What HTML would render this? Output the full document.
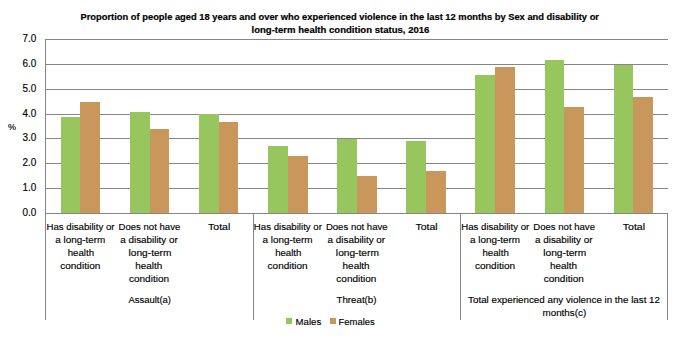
<!DOCTYPE html>
<html><head><meta charset="utf-8"><style>
html,body{margin:0;padding:0;background:#fff;width:680px;height:340px;overflow:hidden}
svg{display:block;font-family:"Liberation Sans",sans-serif;fill:#000}
text{stroke:#000;stroke-width:0.15px}
text[font-weight=bold]{stroke-width:0.2px}
</style></head><body>
<svg width="680" height="340" viewBox="0 0 680 340">
<rect width="680" height="340" fill="#fff"/>
<rect x="46" y="39" width="622" height="1" fill="#868686"/>
<rect x="46" y="64" width="622" height="1" fill="#868686"/>
<rect x="46" y="89" width="622" height="1" fill="#868686"/>
<rect x="46" y="114" width="622" height="1" fill="#868686"/>
<rect x="46" y="138" width="622" height="1" fill="#868686"/>
<rect x="46" y="163" width="622" height="1" fill="#868686"/>
<rect x="46" y="188" width="622" height="1" fill="#868686"/>
<rect x="61" y="117" width="19" height="96" fill="#97C65E"/>
<rect x="80" y="102" width="20" height="111" fill="#C9975C"/>
<rect x="130" y="112" width="20" height="101" fill="#97C65E"/>
<rect x="150" y="129" width="19" height="84" fill="#C9975C"/>
<rect x="199" y="114" width="20" height="99" fill="#97C65E"/>
<rect x="219" y="122" width="19" height="91" fill="#C9975C"/>
<rect x="268" y="146" width="20" height="67" fill="#97C65E"/>
<rect x="288" y="156" width="20" height="57" fill="#C9975C"/>
<rect x="337" y="139" width="20" height="74" fill="#97C65E"/>
<rect x="357" y="176" width="20" height="37" fill="#C9975C"/>
<rect x="406" y="141" width="20" height="72" fill="#97C65E"/>
<rect x="426" y="171" width="20" height="42" fill="#C9975C"/>
<rect x="475" y="75" width="20" height="138" fill="#97C65E"/>
<rect x="495" y="67" width="20" height="146" fill="#C9975C"/>
<rect x="545" y="60" width="19" height="153" fill="#97C65E"/>
<rect x="564" y="107" width="20" height="106" fill="#C9975C"/>
<rect x="614" y="65" width="19" height="148" fill="#97C65E"/>
<rect x="633" y="97" width="20" height="116" fill="#C9975C"/>
<rect x="45" y="39" width="1" height="281" fill="#868686"/>
<rect x="45" y="213" width="623" height="1" fill="#868686"/>
<rect x="253" y="213" width="1" height="107" fill="#868686"/>
<rect x="460" y="213" width="1" height="107" fill="#868686"/>
<rect x="667" y="213" width="1" height="107" fill="#868686"/>
<text x="339.75" y="19.8" text-anchor="middle" font-size="9.9" font-weight="bold" textLength="518.50" lengthAdjust="spacingAndGlyphs">Proportion of people aged 18 years and over who experienced violence in the last 12 months by Sex and disability or</text>
<text x="340.45" y="32.9" text-anchor="middle" font-size="9.9" font-weight="bold" textLength="177.90" lengthAdjust="spacingAndGlyphs">long-term health condition status, 2016</text>
<text x="36.4" y="216.4" text-anchor="end" font-size="10" textLength="13.8" lengthAdjust="spacingAndGlyphs">0.0</text>
<text x="36.4" y="191.4" text-anchor="end" font-size="10" textLength="13.8" lengthAdjust="spacingAndGlyphs">1.0</text>
<text x="36.4" y="166.4" text-anchor="end" font-size="10" textLength="13.8" lengthAdjust="spacingAndGlyphs">2.0</text>
<text x="36.4" y="141.4" text-anchor="end" font-size="10" textLength="13.8" lengthAdjust="spacingAndGlyphs">3.0</text>
<text x="36.4" y="117.4" text-anchor="end" font-size="10" textLength="13.8" lengthAdjust="spacingAndGlyphs">4.0</text>
<text x="36.4" y="92.4" text-anchor="end" font-size="10" textLength="13.8" lengthAdjust="spacingAndGlyphs">5.0</text>
<text x="36.4" y="67.4" text-anchor="end" font-size="10" textLength="13.8" lengthAdjust="spacingAndGlyphs">6.0</text>
<text x="36.4" y="42.4" text-anchor="end" font-size="10" textLength="13.8" lengthAdjust="spacingAndGlyphs">7.0</text>
<text x="11.90" y="129.7" text-anchor="middle" font-size="9.6" textLength="8.00" lengthAdjust="spacingAndGlyphs">%</text>
<text x="80.50" y="229.7" text-anchor="middle" font-size="9.6" textLength="68.00" lengthAdjust="spacingAndGlyphs">Has disability or</text>
<text x="80.25" y="242.7" text-anchor="middle" font-size="9.6" textLength="50.00" lengthAdjust="spacingAndGlyphs">a long-term</text>
<text x="80.88" y="255.7" text-anchor="middle" font-size="9.6" textLength="26.25" lengthAdjust="spacingAndGlyphs">health</text>
<text x="80.25" y="268.7" text-anchor="middle" font-size="9.6" textLength="40.00" lengthAdjust="spacingAndGlyphs">condition</text>
<text x="149.38" y="229.7" text-anchor="middle" font-size="9.6" textLength="61.75" lengthAdjust="spacingAndGlyphs">Does not have</text>
<text x="149.00" y="242.7" text-anchor="middle" font-size="9.6" textLength="57.50" lengthAdjust="spacingAndGlyphs">a disability or</text>
<text x="150.00" y="255.7" text-anchor="middle" font-size="9.6" textLength="43.00" lengthAdjust="spacingAndGlyphs">long-term</text>
<text x="148.75" y="268.7" text-anchor="middle" font-size="9.6" textLength="27.00" lengthAdjust="spacingAndGlyphs">health</text>
<text x="149.00" y="281.7" text-anchor="middle" font-size="9.6" textLength="40.00" lengthAdjust="spacingAndGlyphs">condition</text>
<text x="219.20" y="229.7" text-anchor="middle" font-size="9.6" textLength="22.20" lengthAdjust="spacingAndGlyphs">Total</text>
<text x="287.88" y="229.7" text-anchor="middle" font-size="9.6" textLength="68.00" lengthAdjust="spacingAndGlyphs">Has disability or</text>
<text x="287.62" y="242.7" text-anchor="middle" font-size="9.6" textLength="50.00" lengthAdjust="spacingAndGlyphs">a long-term</text>
<text x="288.25" y="255.7" text-anchor="middle" font-size="9.6" textLength="26.25" lengthAdjust="spacingAndGlyphs">health</text>
<text x="287.62" y="268.7" text-anchor="middle" font-size="9.6" textLength="40.00" lengthAdjust="spacingAndGlyphs">condition</text>
<text x="356.75" y="229.7" text-anchor="middle" font-size="9.6" textLength="61.75" lengthAdjust="spacingAndGlyphs">Does not have</text>
<text x="356.38" y="242.7" text-anchor="middle" font-size="9.6" textLength="57.50" lengthAdjust="spacingAndGlyphs">a disability or</text>
<text x="357.38" y="255.7" text-anchor="middle" font-size="9.6" textLength="43.00" lengthAdjust="spacingAndGlyphs">long-term</text>
<text x="356.12" y="268.7" text-anchor="middle" font-size="9.6" textLength="27.00" lengthAdjust="spacingAndGlyphs">health</text>
<text x="356.38" y="281.7" text-anchor="middle" font-size="9.6" textLength="40.00" lengthAdjust="spacingAndGlyphs">condition</text>
<text x="426.58" y="229.7" text-anchor="middle" font-size="9.6" textLength="22.20" lengthAdjust="spacingAndGlyphs">Total</text>
<text x="495.25" y="229.7" text-anchor="middle" font-size="9.6" textLength="68.00" lengthAdjust="spacingAndGlyphs">Has disability or</text>
<text x="495.00" y="242.7" text-anchor="middle" font-size="9.6" textLength="50.00" lengthAdjust="spacingAndGlyphs">a long-term</text>
<text x="495.62" y="255.7" text-anchor="middle" font-size="9.6" textLength="26.25" lengthAdjust="spacingAndGlyphs">health</text>
<text x="495.00" y="268.7" text-anchor="middle" font-size="9.6" textLength="40.00" lengthAdjust="spacingAndGlyphs">condition</text>
<text x="564.12" y="229.7" text-anchor="middle" font-size="9.6" textLength="61.75" lengthAdjust="spacingAndGlyphs">Does not have</text>
<text x="563.75" y="242.7" text-anchor="middle" font-size="9.6" textLength="57.50" lengthAdjust="spacingAndGlyphs">a disability or</text>
<text x="564.75" y="255.7" text-anchor="middle" font-size="9.6" textLength="43.00" lengthAdjust="spacingAndGlyphs">long-term</text>
<text x="563.50" y="268.7" text-anchor="middle" font-size="9.6" textLength="27.00" lengthAdjust="spacingAndGlyphs">health</text>
<text x="563.75" y="281.7" text-anchor="middle" font-size="9.6" textLength="40.00" lengthAdjust="spacingAndGlyphs">condition</text>
<text x="633.95" y="229.7" text-anchor="middle" font-size="9.6" textLength="22.20" lengthAdjust="spacingAndGlyphs">Total</text>
<text x="149.75" y="302.6" text-anchor="middle" font-size="9.6" textLength="42.50" lengthAdjust="spacingAndGlyphs">Assault(a)</text>
<text x="356.50" y="302.6" text-anchor="middle" font-size="9.6" textLength="40.00" lengthAdjust="spacingAndGlyphs">Threat(b)</text>
<text x="564.05" y="302.6" text-anchor="middle" font-size="9.6" textLength="191.90" lengthAdjust="spacingAndGlyphs">Total experienced any violence in the last 12</text>
<text x="564.35" y="315.6" text-anchor="middle" font-size="9.6" textLength="43.70" lengthAdjust="spacingAndGlyphs">months(c)</text>
<rect x="286" y="318" width="6" height="6" fill="#97C65E"/>
<text x="308.45" y="324.8" text-anchor="middle" font-size="9.6" textLength="25.70" lengthAdjust="spacingAndGlyphs">Males</text>
<rect x="330" y="318" width="6" height="6" fill="#C9975C"/>
<text x="356.60" y="324.8" text-anchor="middle" font-size="9.6" textLength="36.20" lengthAdjust="spacingAndGlyphs">Females</text>
</svg>
</body></html>
